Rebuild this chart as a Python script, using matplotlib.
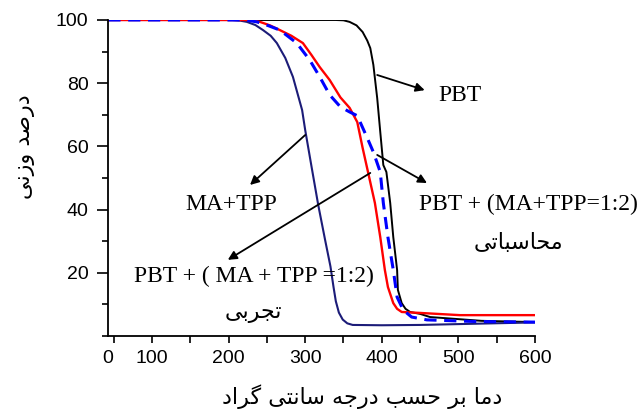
import numpy as np
import matplotlib
matplotlib.use("Agg")
import matplotlib.pyplot as plt
from matplotlib.ticker import MultipleLocator, FixedLocator

# temperature (C) / weight percent
navy_x = [43, 205, 215, 224, 235, 245, 255, 263, 274, 284, 296, 300, 308, 317, 326, 333, 337, 340, 344, 349, 355, 362, 400, 450, 600]
navy_y = [100, 100, 99.8, 99.4, 98.4, 96.8, 95.0, 92.7, 88.0, 82.0, 71.5, 65.2, 54.0, 41.5, 30.4, 22.0, 15.5, 11.0, 7.4, 5.2, 4.0, 3.5, 3.4, 3.5, 4.3]

black_x = [43, 340, 350, 358, 367, 375, 381, 385, 389, 394, 398, 402, 406, 411, 415, 420, 421, 426, 431, 437, 450, 463, 530, 600]
black_y = [100, 100, 99.9, 99.4, 98.3, 96.2, 93.5, 91.1, 85.8, 75.3, 64.6, 54.1, 51.9, 42.1, 31.3, 20.9, 14.6, 10.4, 8.6, 7.6, 7.0, 6.0, 4.8, 4.4]

red_x = [43, 228, 241, 254, 267, 282, 297, 308, 319, 332, 346, 358, 368, 375, 382, 391, 398, 404, 408, 415, 420, 426, 450, 502, 600]
red_y = [100, 100, 99.4, 98.3, 96.8, 95.0, 92.7, 89.0, 85.1, 81.0, 75.5, 72.2, 67.7, 59.5, 51.9, 42.1, 31.3, 20.9, 15.5, 10.4, 8.6, 7.6, 7.3, 6.6, 6.6]

dash_x = [43, 222, 237, 252, 267, 289, 306, 319, 332, 346, 358, 368, 381, 389, 398, 402, 408, 415, 420, 428, 439, 459, 520, 600]
dash_y = [100, 100, 99.4, 98.2, 96.8, 92.7, 87.3, 82.0, 76.3, 72.5, 70.9, 69.7, 62.7, 58.2, 51.9, 42.1, 31.3, 20.9, 12.3, 8.2, 6.0, 5.1, 4.6, 4.4]

x_ticks = [100, 200, 300, 400, 500, 600]
y_ticks = [20, 40, 60, 80, 100]

# arabic presentation forms: isolated, final, initial, medial
FORMS = {
    '\u0627': ('\ufe8d', '\ufe8e', None, None),
    '\u0628': ('\ufe8f', '\ufe90', '\ufe91', '\ufe92'),
    '\u062a': ('\ufe95', '\ufe96', '\ufe97', '\ufe98'),
    '\u062c': ('\ufe9d', '\ufe9e', '\ufe9f', '\ufea0'),
    '\u062d': ('\ufea1', '\ufea2', '\ufea3', '\ufea4'),
    '\u062f': ('\ufea9', '\ufeaa', None, None),
    '\u0631': ('\ufead', '\ufeae', None, None),
    '\u0632': ('\ufeaf', '\ufeb0', None, None),
    '\u0633': ('\ufeb1', '\ufeb2', '\ufeb3', '\ufeb4'),
    '\u0635': ('\ufeb9', '\ufeba', '\ufebb', '\ufebc'),
    '\u0645': ('\ufee1', '\ufee2', '\ufee3', '\ufee4'),
    '\u0646': ('\ufee5', '\ufee6', '\ufee7', '\ufee8'),
    '\u0647': ('\ufee9', '\ufeea', '\ufeeb', '\ufeec'),
    '\u0648': ('\ufeed', '\ufeee', None, None),
    '\u06cc': ('\ufbfc', '\ufbfd', '\ufbfe', '\ufbff'),
    '\u06af': ('\ufb92', '\ufb93', '\ufb94', '\ufb95'),
}


def shape(text):
    out = []
    for i, ch in enumerate(text):
        if ch not in FORMS:
            out.append(ch)
            continue
        prev = text[i - 1] if i > 0 else ''
        nxt = text[i + 1] if i + 1 < len(text) else ''
        jp = prev in FORMS and FORMS[prev][2] is not None
        jn = FORMS[ch][2] is not None and nxt in FORMS
        iso, fin, ini, med = FORMS[ch]
        if jp and jn:
            out.append(med)
        elif jp:
            out.append(fin)
        elif jn:
            out.append(ini)
        else:
            out.append(iso)
    return ''.join(reversed(out))


fig = plt.figure(figsize=(6.42, 4.13), dpi=100)
ax = fig.add_axes([108 / 642, 1 - 336 / 413, 427 / 642, 316 / 413])

ax.plot(black_x, black_y, color='black', lw=1.4)
ax.plot(navy_x, navy_y, color='#1c1c78', lw=1.5)
ax.plot(red_x, red_y, color='#ff0000', lw=1.7)
ax.plot(dash_x, dash_y, color='#0000ff', lw=2.2, dashes=(4, 2.5))

ax.set_xlim(42.6, 600)
ax.set_ylim(0, 100)
for s in ['top', 'right']:
    ax.spines[s].set_visible(False)
ax.spines['left'].set_linewidth(1.3)
ax.spines['bottom'].set_linewidth(1.3)

ax.xaxis.set_major_locator(FixedLocator(x_ticks))
ax.xaxis.set_minor_locator(FixedLocator([50, 150, 250, 350, 450, 550]))
ax.yaxis.set_major_locator(FixedLocator(y_ticks))
ax.yaxis.set_minor_locator(MultipleLocator(10))
ax.tick_params(axis='x', which='both', length=5, width=1.2, pad=5)
ax.tick_params(axis='y', which='major', length=8, width=1.2, pad=6)
ax.tick_params(axis='y', which='minor', length=4, width=1.2)
for lab in ax.get_xticklabels() + ax.get_yticklabels():
    lab.set_fontfamily('Liberation Sans')
    lab.set_fontsize(14)
ax.annotate('0', xy=(42.6, 0), xycoords='data', xytext=(0, -10), textcoords='offset points',
            ha='center', va='top', fontsize=14, family='Liberation Sans')

fa = dict(family=['DejaVu Sans'], fontsize=16)
fig.text(362 / 642, 1 - 397 / 413, shape('دما بر حسب درجه سانتی گراد'), ha='center', va='center', **fa)
fig.text(25 / 642, 1 - 147 / 413, shape('درصد وزنی'), ha='center', va='center', rotation=90, **fa)

tf = dict(family='Liberation Serif', fontsize=17)
arr = dict(arrowstyle='-|>', color='black', lw=1.3, mutation_scale=13, shrinkA=0, shrinkB=0)

ax.annotate('', xy=(456, 77.8), xytext=(394, 82.6), arrowprops=arr)
ax.text(502, 76.0, 'PBT', ha='center', va='center', **tf)

ax.annotate('', xy=(459, 48.4), xytext=(394, 57.3), arrowprops=arr)
ax.text(592, 41.5, 'PBT + (MA+TPP=1:2)', ha='center', va='center', **tf)
ax.text(578, 29.4, shape('محاسباتی'), ha='center', va='center', **fa)

ax.annotate('', xy=(228, 47.8), xytext=(300, 63.6), arrowprops=arr)
ax.text(203, 41.5, 'MA+TPP', ha='center', va='center', **tf)

ax.annotate('', xy=(199, 24.1), xytext=(385, 51.6), arrowprops=arr)
ax.text(233, 19.0, 'PBT + ( MA + TPP =1:2)', ha='center', va='center', **tf)
ax.text(233, 7.3, shape('تجربی'), ha='center', va='center', **fa)

fig.savefig('out.png', dpi=100)
